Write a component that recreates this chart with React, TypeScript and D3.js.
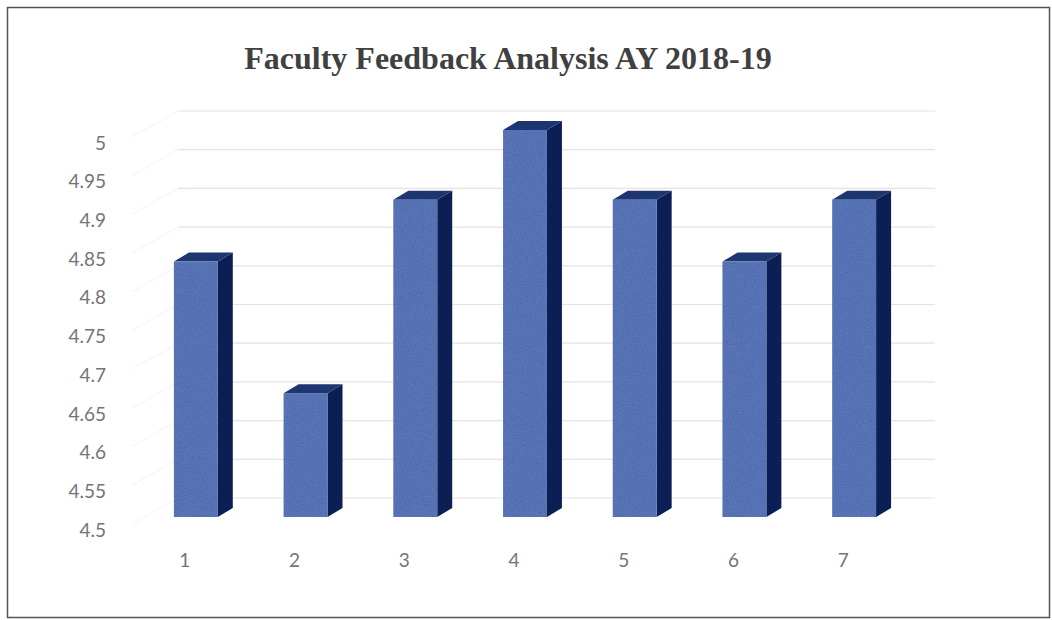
import React from 'react'
import * as d3 from 'd3'

const categories = ['1', '2', '3', '4', '5', '6', '7']
const scores = [4.83, 4.66, 4.91, 5.0, 4.91, 4.83, 4.91]
const yTicks = [4.5, 4.55, 4.6, 4.65, 4.7, 4.75, 4.8, 4.85, 4.9, 4.95, 5]
const title = 'Faculty Feedback Analysis AY 2018-19'

const W = 1052
const H = 620

// 3d offsets (depth of the columns, and of the back wall)
const depthX = 15
const depthY = -9
const wallShift = -19
const labelShift = 13

const App = () => {
  const x = d3
    .scaleBand()
    .domain(categories)
    .range([141, 909])
    .paddingInner(0.6)
    .paddingOuter(0.3)

  const y = d3.scaleLinear().domain([4.5, 5]).range([517, 130])
  const bw = x.bandwidth()

  return (
    <svg
      width={W}
      height={H}
      style={{ position: 'absolute', left: 0, top: 0, background: '#fff' }}
    >
      <defs>
        <filter id="grain" x="0" y="0" width="100%" height="100%">
          <feTurbulence type="fractalNoise" baseFrequency="0.9" numOctaves={2} seed={3} result="n" />
          <feColorMatrix
            in="n"
            type="matrix"
            values="0 0 0 0 0.3  0 0 0 0 0.42  0 0 0 0 0.7  0 0 0 0.3 0"
            result="c"
          />
          <feComposite in="c" in2="SourceGraphic" operator="in" result="m" />
          <feMerge>
            <feMergeNode in="SourceGraphic" />
            <feMergeNode in="m" />
          </feMerge>
        </filter>
      </defs>

      <rect x={7.5} y={7.5} width={1042} height={610} fill="#fff" stroke="#555" strokeWidth={1.5} />

      <text
        x={508}
        y={69}
        textAnchor="middle"
        fontFamily="'Liberation Serif', 'Times New Roman', serif"
        fontWeight="bold"
        fontSize={32}
        fill="#404040"
      >
        {title}
      </text>

      {/* back wall gridlines + side wall lines */}
      {yTicks.map((t) => (
        <g key={t}>
          <line
            x1={178}
            x2={935}
            y1={y(t) + wallShift}
            y2={y(t) + wallShift}
            stroke="#f0dde2"
            strokeWidth={1.2}
          />
          <line
            x1={132}
            x2={178}
            y1={y(t) + wallShift + 26}
            y2={y(t) + wallShift}
            stroke="#f3f3f3"
            strokeWidth={1}
          />
        </g>
      ))}

      {yTicks.map((t) => (
        <text
          key={'l' + t}
          x={106}
          y={y(t) + labelShift}
          dy="0.35em"
          textAnchor="end"
          fontFamily="Lato, 'Open Sans', sans-serif"
          fontSize={19}
          fill="#747474"
        >
          {d3.format('~g')(t)}
        </text>
      ))}

      {categories.map((c, i) => {
        const x0 = x(c) as number
        const x1 = x0 + bw
        const yt = y(scores[i])
        const yb = y(4.5)
        return (
          <g key={c}>
            <path
              d={`M${x1},${yb}L${x1 + depthX},${yb + depthY}L${x1 + depthX},${yt + depthY}L${x1},${yt}Z`}
              fill="#0c1f55"
            />
            <path
              d={`M${x0},${yt}L${x0 + depthX},${yt + depthY}L${x1 + depthX},${yt + depthY}L${x1},${yt}Z`}
              fill="#1d3671"
            />
            <rect
              x={x0}
              y={yt}
              width={bw}
              height={yb - yt}
              fill="#4464ac"
              filter="url(#grain)"
            />
            <text
              x={x0 + bw / 2 - 11}
              y={560}
              dy="0.35em"
              textAnchor="middle"
              fontFamily="Lato, 'Open Sans', sans-serif"
              fontSize={19}
              fill="#747474"
            >
              {c}
            </text>
          </g>
        )
      })}
    </svg>
  )
}

export default App
